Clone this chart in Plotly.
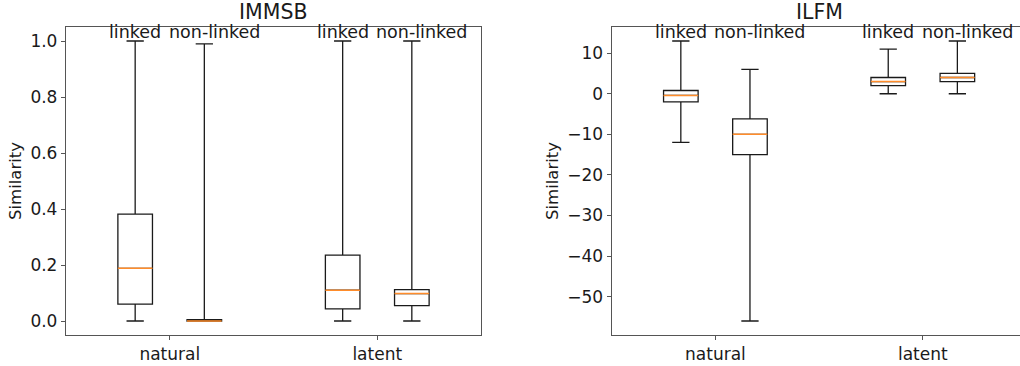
import plotly.graph_objects as go

# Box-plot summaries of similarity scores, per model, space and pair type
groups = ["natural", "latent"]
pair_types = ["linked", "non-linked"]

# IMMSB: [natural-linked, natural-non-linked, latent-linked, latent-non-linked]
immsb_low = [0.0, 0.0, 0.0, 0.0]
immsb_q1 = [0.06, 0.0, 0.043, 0.055]
immsb_median = [0.188, 0.0, 0.11, 0.098]
immsb_q3 = [0.382, 0.005, 0.235, 0.112]
immsb_high = [1.0, 0.99, 1.0, 1.0]

# ILFM
ilfm_low = [-12, -56, 0, 0]
ilfm_q1 = [-2, -15, 2, 3]
ilfm_median = [-0.4, -10, 3, 4]
ilfm_q3 = [0.8, -6.2, 4, 5]
ilfm_high = [13, 6, 11, 13]

immsb_ticks = [0.0, 0.2, 0.4, 0.6, 0.8, 1.0]
ilfm_ticks = [-50, -40, -30, -20, -10, 0, 10]

# box positions: two pair types per group, groups three units apart
group_centers = [1.5, 4.5]
positions = [c + d for c in group_centers for d in (-0.5, 0.5)]
labels = [p for _ in groups for p in pair_types]
label_shift = [0 if p == "linked" else 10 for _ in groups for p in pair_types]

BOX_W = 0.5
INK = "#1a1a1a"
FRAME = "#555555"
MEDIAN = "#ff8c2a"
FONT = "DejaVu Sans"
TICK_SIZE = 17
LABEL_SIZE = 17.5

W, H = 1020, 366
TOP, BOTTOM = 27, 31

fig = go.Figure()

panels = [
    ("IMMSB", "x", "y", immsb_low, immsb_q1, immsb_median, immsb_q3, immsb_high),
    ("ILFM", "x2", "y2", ilfm_low, ilfm_q1, ilfm_median, ilfm_q3, ilfm_high),
]

for name, xa, ya, low, q1, med, q3, high in panels:
    for i, pos in enumerate(positions):
        fig.add_trace(go.Box(
            x=[pos], q1=[q1[i]], median=[med[i]], q3=[q3[i]],
            lowerfence=[low[i]], upperfence=[high[i]],
            width=BOX_W, whiskerwidth=0.5,
            fillcolor="white", line=dict(color=INK, width=1.3),
            boxpoints=False, showlegend=False, hoverinfo="skip",
            xaxis=xa, yaxis=ya,
        ))
        fig.add_trace(go.Scatter(
            x=[pos - BOX_W / 2, pos + BOX_W / 2], y=[med[i], med[i]],
            mode="lines", line=dict(color=MEDIAN, width=1.5),
            showlegend=False, hoverinfo="skip", xaxis=xa, yaxis=ya,
        ))
    top_val = max(high)
    for pos, lab, shift in zip(positions, labels, label_shift):
        fig.add_annotation(
            x=pos, y=top_val, xref=xa, yref=ya, text=lab, showarrow=False,
            yanchor="bottom", xanchor="center", yshift=-3, xshift=shift,
            font=dict(family=FONT, size=LABEL_SIZE, color=INK),
        )

# panel geometry in pixels
left_x0, left_x1 = 66, 481
right_x0, right_full_x1 = 611.7, 1026.5   # right frame runs past the page edge

axis_common = dict(
    showgrid=False, zeroline=False, showline=True,
    linecolor=FRAME, linewidth=1.3, ticks="outside", ticklen=4,
    tickcolor=FRAME, tickfont=dict(size=TICK_SIZE, color=INK),
)

fig.update_layout(
    width=W, height=H,
    margin=dict(l=0, r=0, t=TOP, b=BOTTOM),
    paper_bgcolor="white", plot_bgcolor="white",
    font=dict(family=FONT, size=TICK_SIZE, color=INK),
    xaxis=dict(
        domain=[left_x0 / W, left_x1 / W], range=[0, 6],
        tickvals=group_centers, ticktext=groups, mirror=True,
        ticklabelstandoff=-1, anchor="y", **axis_common,
    ),
    yaxis=dict(
        domain=[0, 1], range=[-0.05, 1.05],
        tickvals=immsb_ticks, tickformat=".1f", mirror=True,
        anchor="x", **axis_common,
    ),
    xaxis2=dict(
        domain=[right_x0 / W, 1.0],
        range=[0, 6 * (W - right_x0) / (right_full_x1 - right_x0)],
        tickvals=group_centers, ticktext=groups, mirror=True,
        ticklabelstandoff=-1, anchor="y2", **axis_common,
    ),
    yaxis2=dict(
        domain=[0, 1], range=[-59.45, 16.45],
        tickvals=ilfm_ticks, mirror=False,
        anchor="x2", **axis_common,
    ),
)

# panel titles and y-axis labels
for name, cx, lx in [("IMMSB", (left_x0 + left_x1) / 2, 15),
                     ("ILFM", (right_x0 + right_full_x1) / 2, 552)]:
    fig.add_annotation(
        x=cx / W, y=1, xref="paper", yref="paper", text=name,
        showarrow=False, xanchor="center", yanchor="bottom", yshift=1,
        font=dict(family=FONT, size=20.5, color=INK),
    )
    fig.add_annotation(
        x=lx / W, y=0.5, xref="paper", yref="paper", text="Similarity",
        showarrow=False, xanchor="center", yanchor="middle", textangle=-90,
        font=dict(family=FONT, size=16.5, color=INK),
    )

fig.write_html("out.html")
